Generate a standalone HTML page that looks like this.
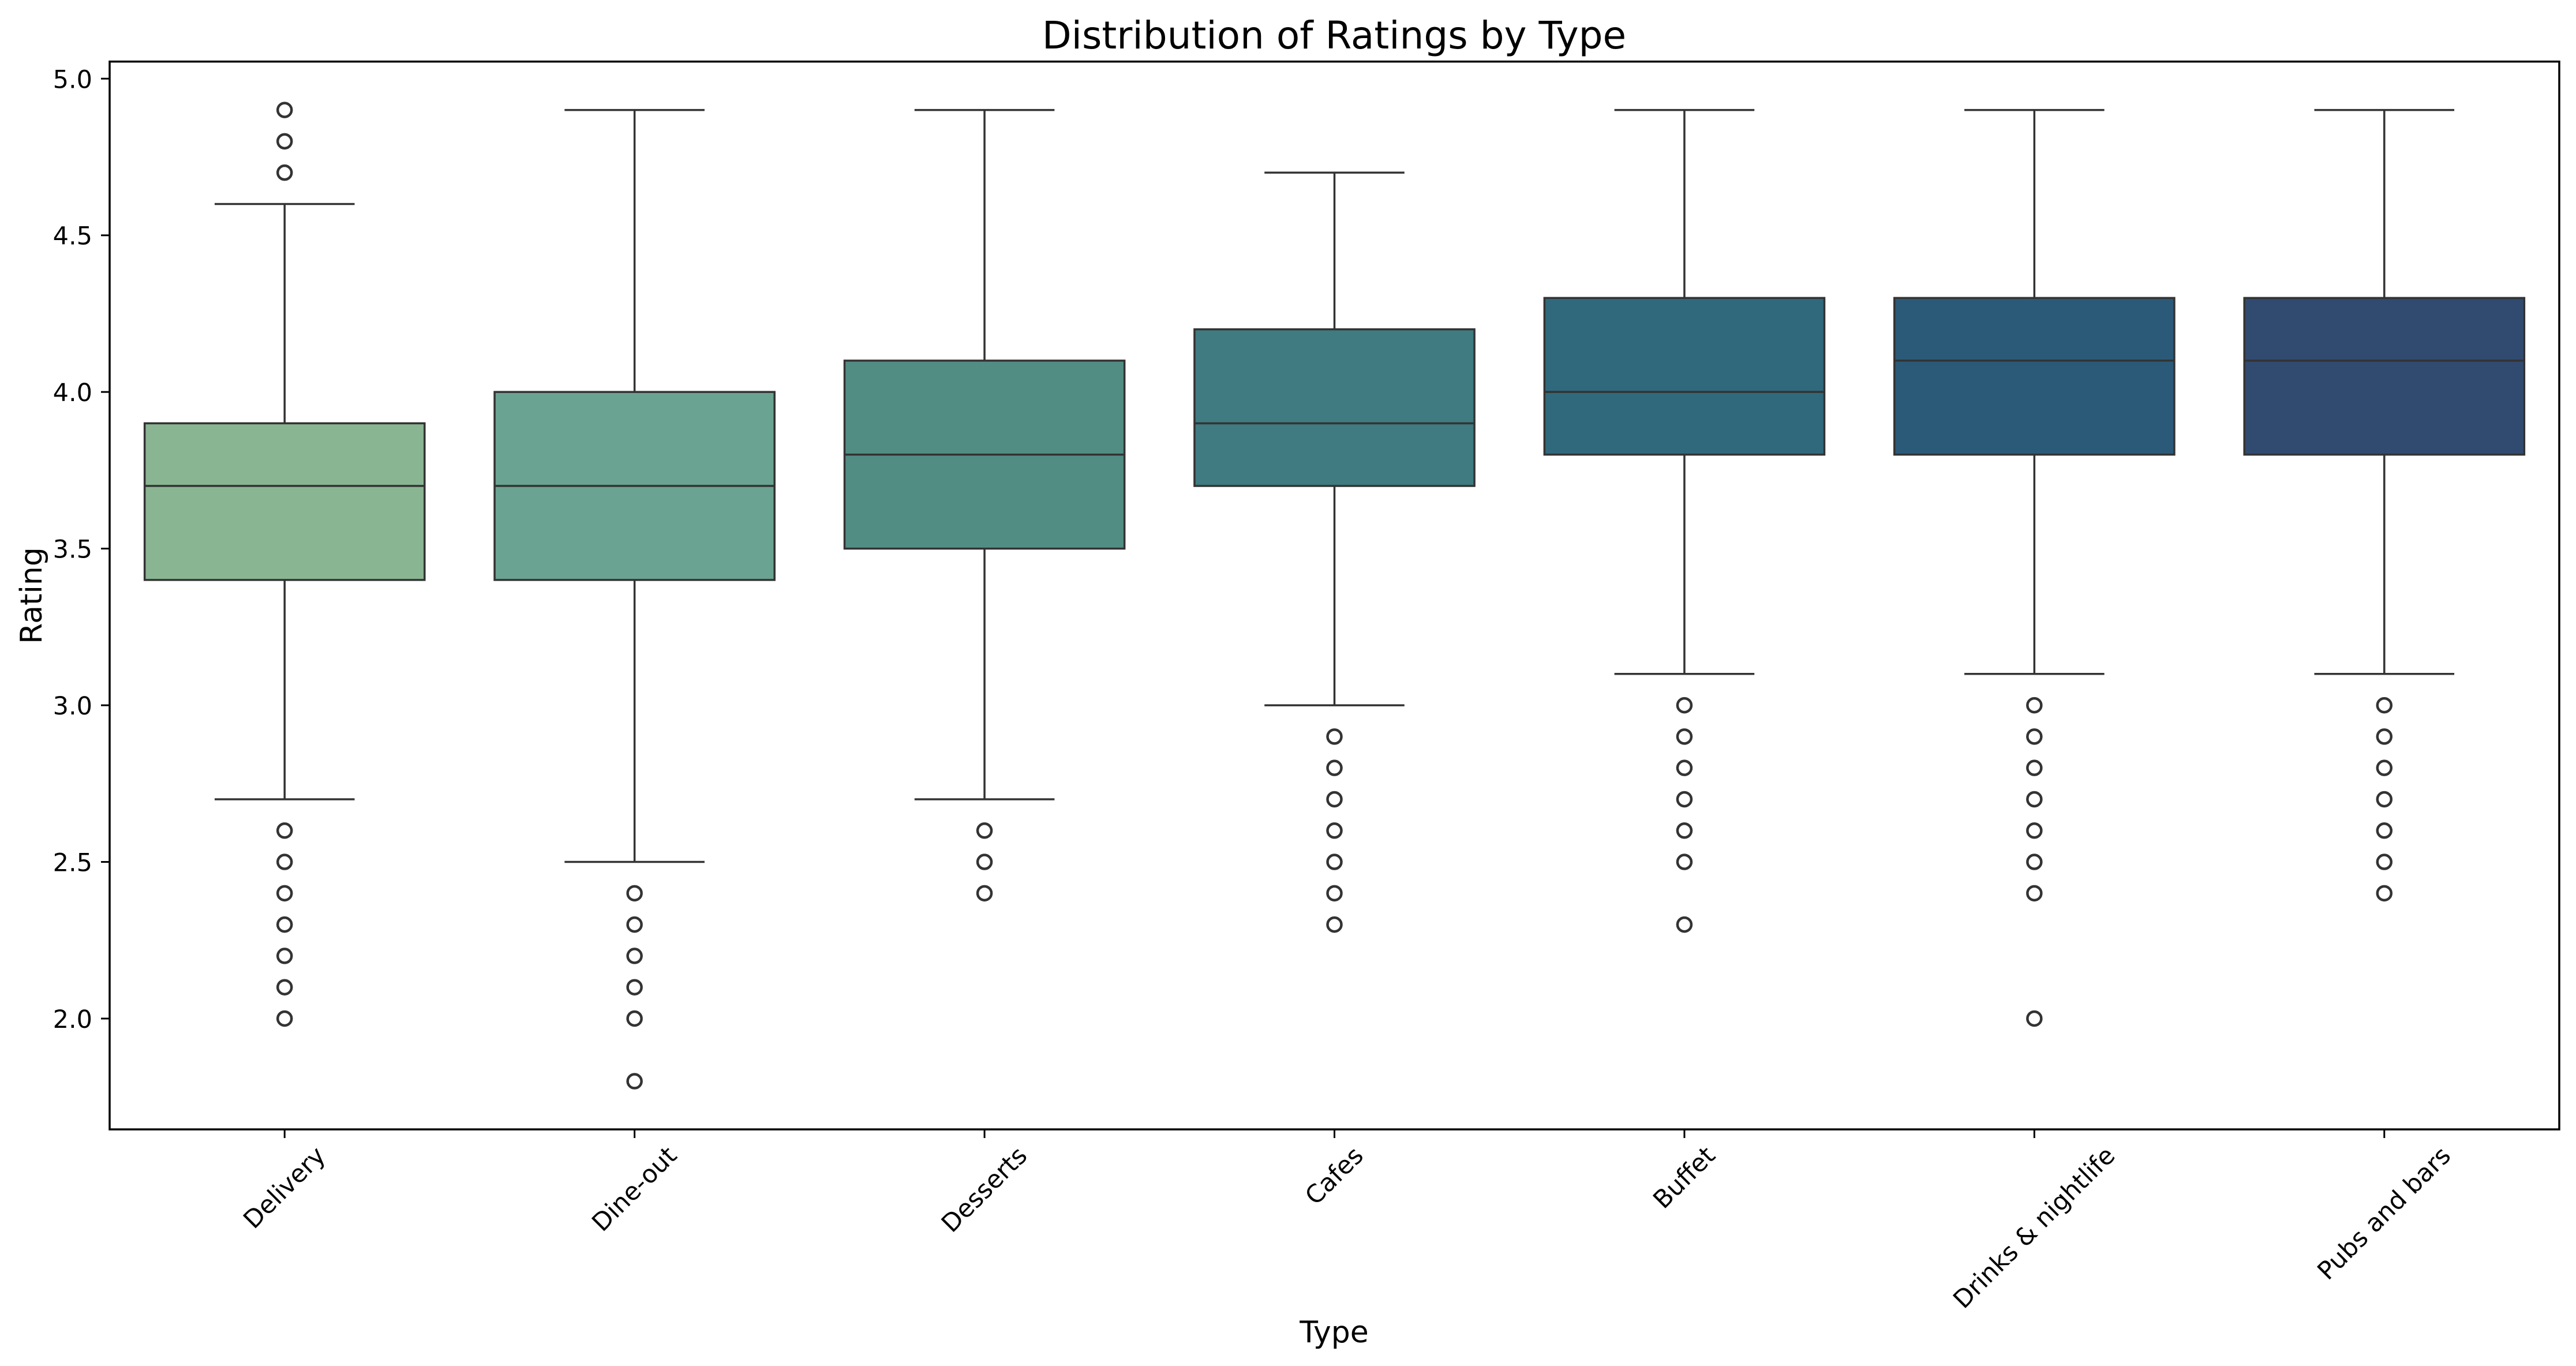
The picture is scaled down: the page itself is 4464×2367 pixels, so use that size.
<!DOCTYPE html>
<html><head><meta charset="utf-8">
<style>
html,body{margin:0;padding:0;background:#fff;}
svg{display:block;font-family:"DejaVu Sans","Liberation Sans",sans-serif;}
</style></head>
<body>
<svg id="chart" width="4464" height="2367" viewBox="0 0 4464 2367" xmlns="http://www.w3.org/2000/svg">
<rect x="0" y="0" width="4464" height="2367" fill="#fff"/>
<text x="2312" y="84" font-size="66" text-anchor="middle" fill="#000">Distribution of Ratings by Type</text>
<text x="0" y="0" font-size="52" text-anchor="middle" fill="#000" transform="translate(72,1032) rotate(-90)">Rating</text>
<text x="2312" y="2326" font-size="52" text-anchor="middle" fill="#000">Type</text>
<g id="plot"></g>
</svg>
<script>
const categories = ["Delivery","Dine-out","Desserts","Cafes","Buffet","Drinks & nightlife","Pubs and bars"];
const whiskerLow = [2.7,2.5,2.7,3.0,3.1,3.1,3.1];
const q1 = [3.4,3.4,3.5,3.7,3.8,3.8,3.8];
const medians = [3.7,3.7,3.8,3.9,4.0,4.1,4.1];
const q3 = [3.9,4.0,4.1,4.2,4.3,4.3,4.3];
const whiskerHigh = [4.6,4.9,4.9,4.7,4.9,4.9,4.9];
const outliers = [
  [4.7,4.8,4.9,2.6,2.5,2.4,2.3,2.2,2.1,2.0],
  [2.4,2.3,2.2,2.1,2.0,1.8],
  [2.6,2.5,2.4],
  [2.9,2.8,2.7,2.6,2.5,2.4,2.3],
  [3.0,2.9,2.8,2.7,2.6,2.5,2.3],
  [3.0,2.9,2.8,2.7,2.6,2.5,2.4,2.0],
  [3.0,2.9,2.8,2.7,2.6,2.5,2.4]
];
const colors = ["#8ab592","#6aa391","#528d84","#3f7b81","#30697c","#2b5a78","#314a70"];
const yTicks = [2.0,2.5,3.0,3.5,4.0,4.5,5.0];
const yTickLabels = ["2.0","2.5","3.0","3.5","4.0","4.5","5.0"];

const NS = "http://www.w3.org/2000/svg";
const L = 190, R = 4435, T = 106.7, B = 1957;
const yMin = 1.6463, yMax = 5.0545;
const step = (R - L) / categories.length;
function xScale(i){ return L + step * (i + 0.5); }
function yScale(v){ return B - (v - yMin) / (yMax - yMin) * (B - T); }
const plot = document.getElementById('plot');
function mk(tag, attrs, parent){
  const e = document.createElementNS(NS, tag);
  for (const k in attrs) e.setAttribute(k, attrs[k]);
  (parent || plot).appendChild(e);
  return e;
}
const boxW = step * 0.8, capW = step * 0.4;
const stroke = "#333333";
categories.forEach((c, i) => {
  const g = mk('g', {});
  
  
  const cx = xScale(i);
  const w1 = mk('line', {x1:cx, x2:cx, y1:yScale(q3[i]), y2:yScale(whiskerHigh[i]), stroke:stroke, 'stroke-width':3.5}, g);
  
  
  const w2 = mk('line', {x1:cx, x2:cx, y1:yScale(q1[i]), y2:yScale(whiskerLow[i]), stroke:stroke, 'stroke-width':3.5}, g);
  
  
  const c1 = mk('line', {x1:cx-capW/2, x2:cx+capW/2, y1:yScale(whiskerHigh[i]), y2:yScale(whiskerHigh[i]), stroke:stroke, 'stroke-width':3.5}, g);
  
  
  const c2 = mk('line', {x1:cx-capW/2, x2:cx+capW/2, y1:yScale(whiskerLow[i]), y2:yScale(whiskerLow[i]), stroke:stroke, 'stroke-width':3.5}, g);
  
  
  const bx = mk('rect', {x:cx-boxW/2, y:yScale(q3[i]), width:boxW, height:yScale(q1[i])-yScale(q3[i]), fill:colors[i], stroke:stroke, 'stroke-width':3.5}, g);
  
  
  const md = mk('line', {x1:cx-boxW/2, x2:cx+boxW/2, y1:yScale(medians[i]), y2:yScale(medians[i]), stroke:stroke, 'stroke-width':3.5}, g);
  
  
  outliers[i].forEach(v => {
    const o = mk('circle', {cx:cx, cy:yScale(v), r:12, fill:'none', stroke:stroke, 'stroke-width':4.5}, g);
    
    
  });
});
const frame = mk('rect', {x:L, y:T, width:R-L, height:B-T, fill:'none', stroke:'#000', 'stroke-width':3.5});


yTicks.forEach((v, i) => {
  const y = yScale(v);
  const t = mk('line', {x1:L-15, x2:L, y1:y, y2:y, stroke:'#000', 'stroke-width':3});
  
  
  const lb = mk('text', {x:L-30, y:y+16, 'font-size':43, 'text-anchor':'end', fill:'#000'});
  lb.textContent = yTickLabels[i];
  
  
});
categories.forEach((c, i) => {
  const x = xScale(i);
  const t = mk('line', {x1:x, x2:x, y1:B, y2:B+15, stroke:'#000', 'stroke-width':3});
  
  
  const lb = mk('text', {x:0, y:0, 'font-size':43, 'text-anchor':'middle', 'dominant-baseline':'central', fill:'#000'});
  lb.textContent = c;
  
  
  const w = lb.getComputedTextLength();
  const H = (w + 43) * Math.SQRT1_2;
  lb.setAttribute('transform', 'translate(' + x + ',' + (B + 23 + H / 2) + ') rotate(-45)');
});
</script>
</body></html>
